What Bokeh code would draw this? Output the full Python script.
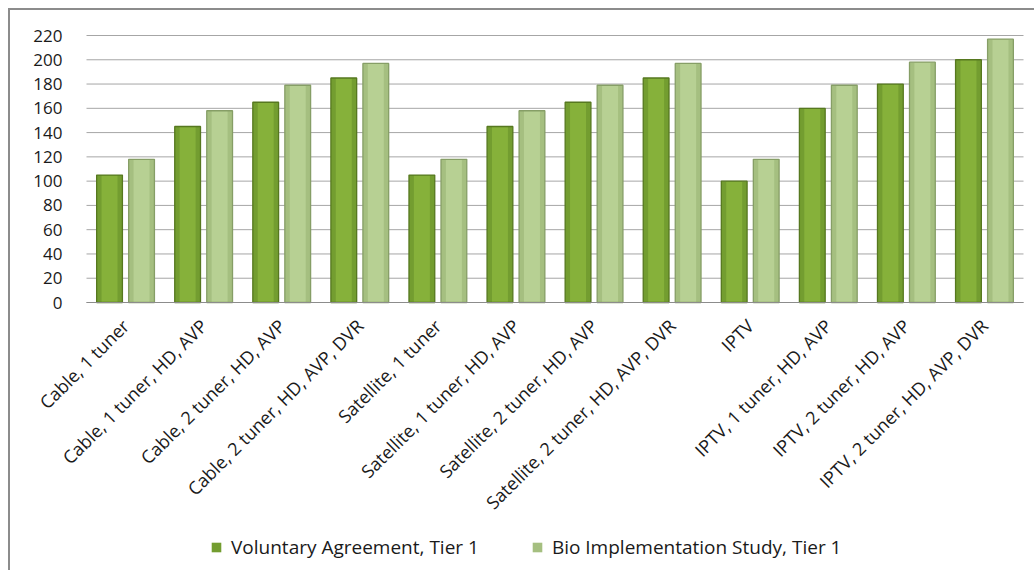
from math import pi
from bokeh.plotting import figure
from bokeh.models import ColumnDataSource, Range1d, FixedTicker, Legend, LegendItem
from bokeh.embed import file_html
from bokeh.resources import INLINE

categories = [
    "Cable, 1 tuner",
    "Cable, 1 tuner, HD, AVP",
    "Cable, 2 tuner, HD, AVP",
    "Cable, 2 tuner, HD, AVP, DVR",
    "Satellite, 1 tuner",
    "Satellite, 1 tuner, HD, AVP",
    "Satellite, 2 tuner, HD, AVP",
    "Satellite, 2 tuner, HD, AVP, DVR",
    "IPTV",
    "IPTV, 1 tuner, HD, AVP",
    "IPTV, 2 tuner, HD, AVP",
    "IPTV, 2 tuner, HD, AVP, DVR",
]
voluntary = [105, 145, 165, 185, 105, 145, 165, 185, 100, 160, 180, 200]
bio_study = [118, 158, 179, 197, 118, 158, 179, 197, 118, 179, 198, 217]
y_ticks = [0, 20, 40, 60, 80, 100, 120, 140, 160, 180, 200, 220]
series_names = ["Voluntary Agreement, Tier 1", "Bio Implementation Study, Tier 1"]

n = len(categories)
centers = [i + 0.5 for i in range(n)]
OFF = 0.205
src = ColumnDataSource(dict(
    x_va=[c - OFF for c in centers], x_bio=[c + OFF for c in centers],
    va=voluntary, bio=bio_study,
))

FONT = "Open Sans"

# layout: one category = 937/12 px, 220 units = 267 px
W, H = 1024, 560
PX_CAT = 937 / n
PX_UNIT = 267 / y_ticks[-1]
x_start = -76 / PX_CAT
y_end = y_ticks[-1] + 25 / PX_UNIT

p = figure(
    x_range=Range1d(x_start, x_start + W / PX_CAT),
    y_range=Range1d(y_end - H / PX_UNIT, y_end),
    frame_width=W, frame_height=H,
    output_backend="svg", toolbar_location=None,
    min_border=0, min_border_left=0, min_border_right=0, min_border_top=0, min_border_bottom=0,
)
p.styles = {"border-left": "2px solid #8c8c8c", "border-top": "2px solid #8c8c8c",
            "margin-left": "8px", "margin-top": "8px"}
p.outline_line_color = None
p.background_fill_color = "white"
p.border_fill_color = "white"

# grid lines limited to the plot area
p.xgrid.grid_line_color = None
p.ygrid.grid_line_color = None
p.segment(x0=0, x1=n, y0=y_ticks, y1=y_ticks, line_color="#a6a6a6", line_width=1)

BW = 0.33
# dark series: base, centre highlight, outline
r1 = p.vbar(x="x_va", top="va", width=BW, bottom=0, source=src,
            fill_color="#739d30", line_color=None)
p.vbar(x="x_va", top="va", width=BW * 0.62, bottom=0, source=src,
       fill_color="#86b13a", line_color=None)
p.vbar(x="x_va", top="va", width=BW, bottom=0, source=src,
       fill_color=None, line_color="#56781f", line_width=1.3)
# light series
r2 = p.vbar(x="x_bio", top="bio", width=BW, bottom=0, source=src,
            fill_color="#a5bf80", line_color=None)
p.vbar(x="x_bio", top="bio", width=BW * 0.62, bottom=0, source=src,
       fill_color="#b7d093", line_color=None)
p.vbar(x="x_bio", top="bio", width=BW, bottom=0, source=src,
       fill_color=None, line_color="#869e66", line_width=1.3)

p.yaxis.fixed_location = 0
p.yaxis.bounds = (y_ticks[0], y_ticks[-1])
p.yaxis.ticker = FixedTicker(ticks=y_ticks)
p.yaxis.axis_line_color = None
p.yaxis.major_tick_line_color = None
p.yaxis.minor_tick_line_color = None
p.yaxis.major_label_text_font = FONT
p.yaxis.major_label_text_font_size = "17px"
p.yaxis.major_label_text_color = "#1a1a1a"
p.yaxis.major_label_standoff = 18

p.xaxis.fixed_location = 0
p.xaxis.bounds = (0, n)
p.xaxis.ticker = FixedTicker(ticks=centers)
p.xaxis.major_label_overrides = {c: lab for c, lab in zip(centers, categories)}
p.xaxis.axis_line_color = "#8c8c8c"
p.xaxis.major_tick_line_color = None
p.xaxis.minor_tick_line_color = None
p.xaxis.major_label_orientation = pi / 4
p.xaxis.major_label_text_font = FONT
p.xaxis.major_label_text_font_size = "18px"
p.xaxis.major_label_text_color = "#1a1a1a"
p.xaxis.major_label_standoff = 14

legend = Legend(
    items=[LegendItem(label=series_names[0], renderers=[r1]),
           LegendItem(label=series_names[1], renderers=[r2])],
    orientation="horizontal", location=(200, 10),
    label_text_font=FONT, label_text_font_size="19px", label_text_color="#1a1a1a",
    glyph_width=12, glyph_height=12, spacing=52, label_standoff=9,
    border_line_color=None, background_fill_alpha=0, margin=0, padding=4,
)
p.add_layout(legend, "center")

open("out.html", "w").write(file_html(p, INLINE))
